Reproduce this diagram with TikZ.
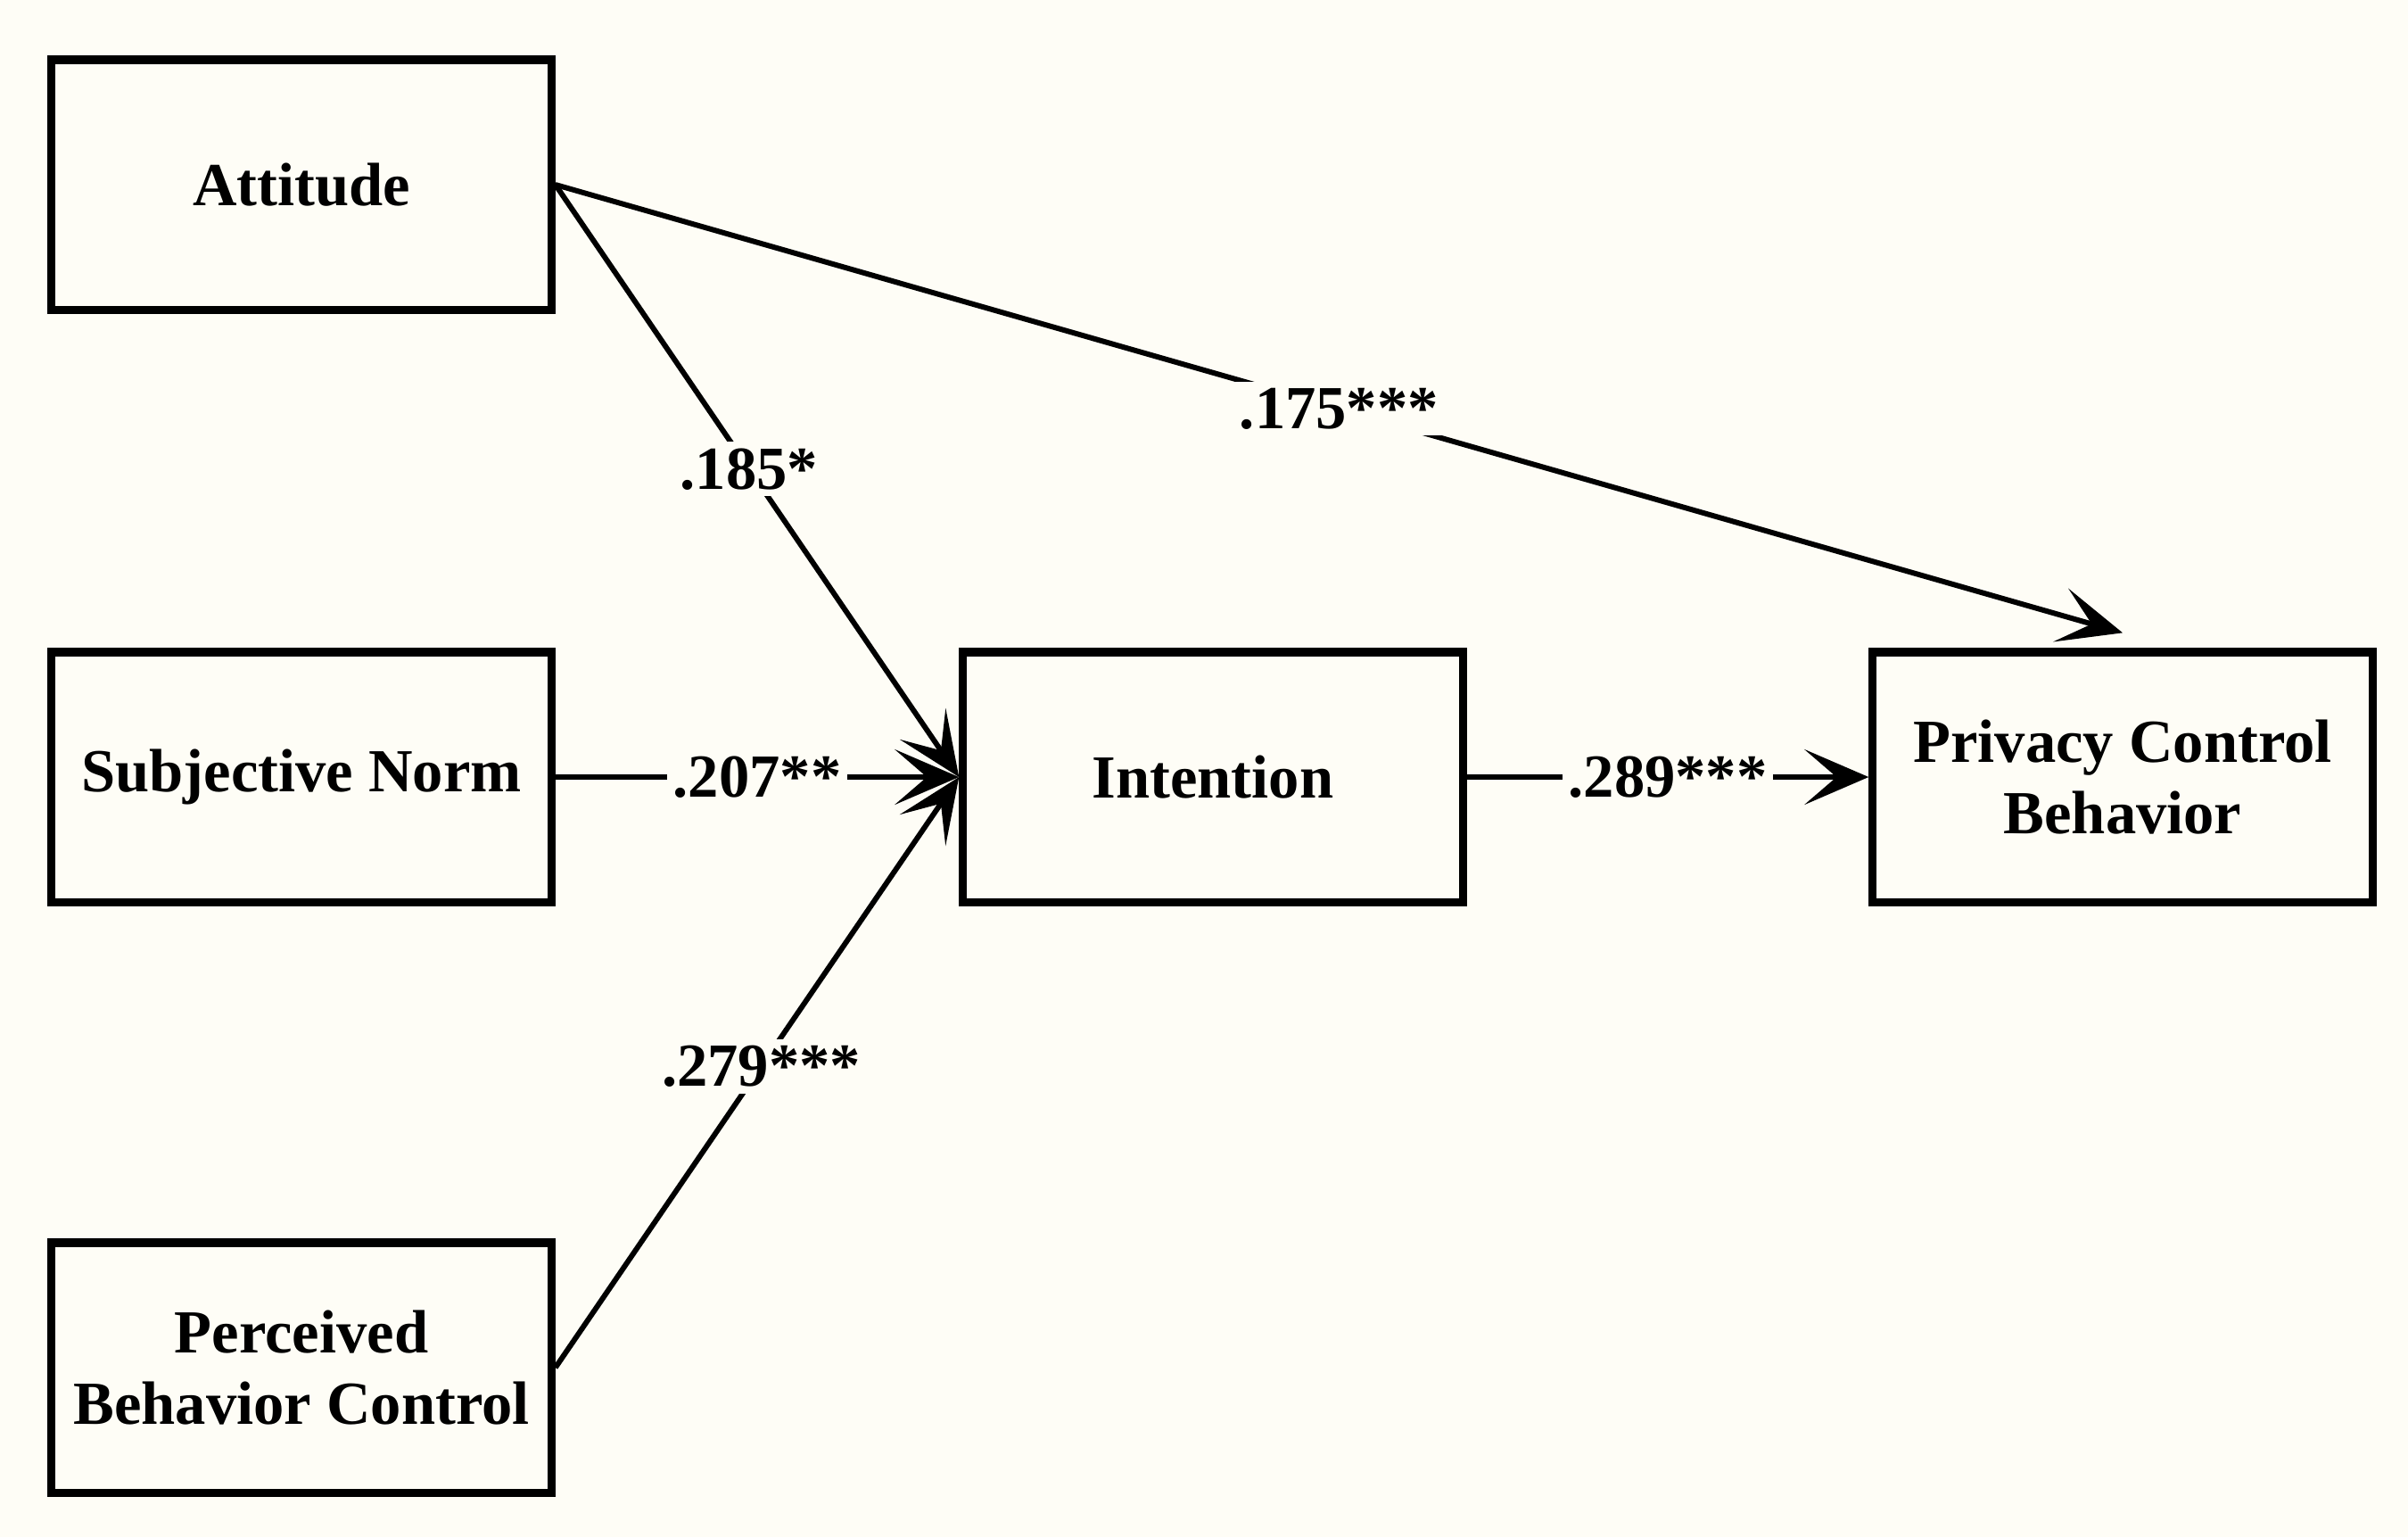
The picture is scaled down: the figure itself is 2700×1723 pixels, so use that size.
\documentclass[tikz,border=0pt]{standalone}
\usepackage{fontspec}
\setmainfont{Liberation Serif}
\usetikzlibrary{arrows.meta}

\definecolor{paper}{RGB}{254,253,246}

\begin{document}
\begin{tikzpicture}[x=0.01cm,y=0.01cm,yscale=-1,
    box/.style={draw,line width=2.6pt,fill=paper,minimum width=5.6cm,minimum height=2.8cm,inner sep=0pt,align=center,
      font=\fontsize{19.5}{23}\selectfont\bfseries},
    link/.style={line width=1.7pt,-{Stealth[length=0.72cm,width=0.62cm,inset=0.36cm]}},
    coef/.style={fill=paper,inner sep=2pt,font=\fontsize{19.5}{23}\selectfont\bfseries}]
    %set diagram to the size of the reference
    \useasboundingbox (0,0) rectangle (2700,1723);
    \fill [paper] (0,0) rectangle (2700,1723);

    %Shape: Rectangles
    \node [box] (att) at (338,207) {Attitude};
    \node [box] (sn) at (338,871) {Subjective Norm};
    \node [box] (pbc) at (338,1533) {Perceived\\Behavior Control};
    \node [box] (int) at (1360,871) {Intention};
    \node [box] (pcb) at (2380,871) {Privacy Control\\Behavior};

    %Straight Lines
    \draw [link] (att.east) -- node [coef] {.175***} ([yshift=-0.17cm]pcb.north);
    \draw [link] (att.east) -- node [coef,pos=0.48] {.185*} (int.west);
    \draw [link] (sn.east) -- node [coef] {.207**} (int.west);
    \draw [link] (pbc.east) -- node [coef,pos=0.51] {.279***} (int.west);
    \draw [link] (int.east) -- node [coef] {.289***} (pcb.west);

\end{tikzpicture}
\end{document}
